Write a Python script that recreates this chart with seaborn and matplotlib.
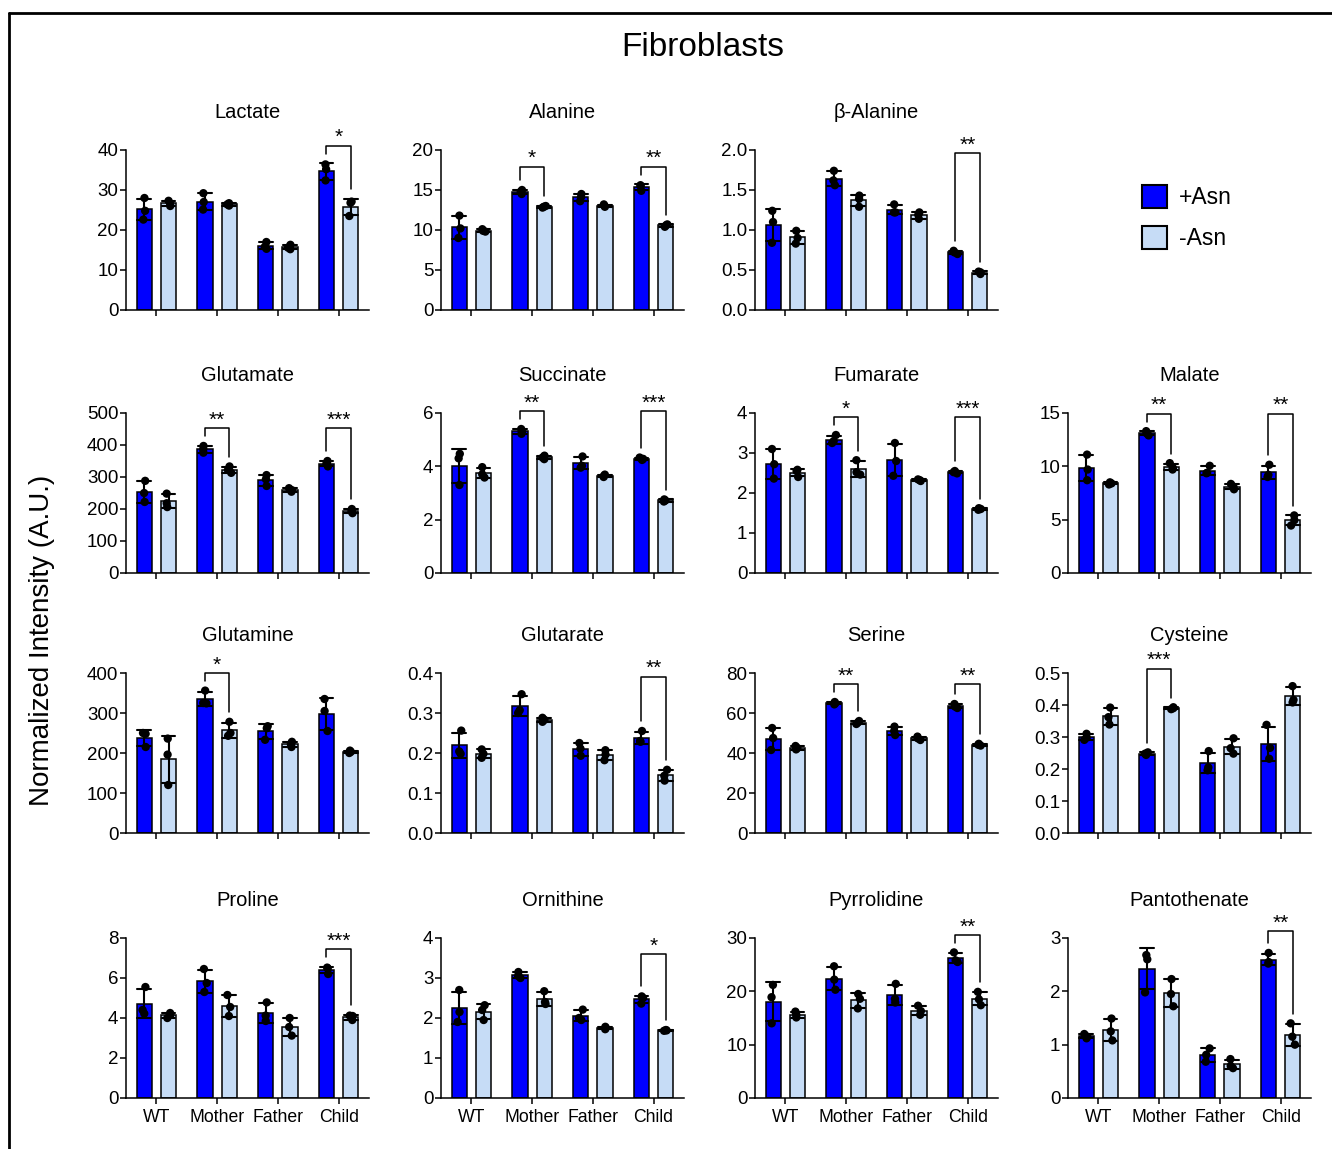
import matplotlib
matplotlib.use('Agg')
import matplotlib.pyplot as plt
import matplotlib.patches as mpatches
from matplotlib.lines import Line2D
import seaborn as sns
import pandas as pd
import numpy as np

groups = ['WT', 'Mother', 'Father', 'Child']
conditions = ['+Asn', '-Asn']

# replicate values, one triplet per group (WT, Mother, Father, Child)
lactate_plus = [[28.0, 24.8, 22.6], [29.2, 27.0, 25.1], [17.0, 15.8, 15.3], [36.4, 35.2, 32.4]]
lactate_minus = [[27.3, 26.6, 26.0], [26.7, 26.4, 26.1], [16.3, 15.6, 15.2], [27.1, 26.8, 23.5]]

alanine_plus = [[11.8, 10.2, 9.0], [15.0, 14.8, 14.5], [14.5, 14.1, 13.6], [15.6, 15.5, 14.9]]
alanine_minus = [[10.1, 9.9, 9.8], [13.0, 12.9, 12.8], [13.2, 13.0, 12.9], [10.7, 10.6, 10.4]]

balanine_plus = [[1.24, 1.10, 0.84], [1.74, 1.62, 1.56], [1.32, 1.22, 1.22], [0.74, 0.72, 0.70]]
balanine_minus = [[0.99, 0.90, 0.83], [1.43, 1.39, 1.29], [1.22, 1.19, 1.14], [0.48, 0.47, 0.45]]

glutamate_plus = [[288, 250, 222], [397, 387, 376], [306, 293, 272], [350, 342, 333]]
glutamate_minus = [[248, 218, 206], [333, 322, 313], [265, 259, 254], [200, 193, 187]]

succinate_plus = [[4.47, 4.30, 3.30], [5.40, 5.30, 5.22], [4.37, 4.02, 3.95], [4.33, 4.28, 4.24]]
succinate_minus = [[3.97, 3.70, 3.58], [4.40, 4.33, 4.27], [3.69, 3.64, 3.60], [2.76, 2.72, 2.68]]

fumarate_plus = [[3.10, 2.72, 2.36], [3.45, 3.30, 3.25], [3.25, 2.80, 2.43], [2.55, 2.52, 2.49]]
fumarate_minus = [[2.58, 2.55, 2.40], [2.82, 2.52, 2.46], [2.34, 2.32, 2.30], [1.62, 1.60, 1.58]]

malate_plus = [[11.1, 9.7, 8.7], [13.3, 13.1, 12.9], [10.05, 9.40, 9.35], [10.15, 9.20, 9.0]]
malate_minus = [[8.5, 8.4, 8.3], [10.3, 9.85, 9.7], [8.35, 8.10, 7.85], [5.4, 4.95, 4.45]]

glutamine_plus = [[250, 248, 215], [356, 325, 324], [267, 262, 233], [335, 305, 255]]
glutamine_minus = [[236, 196, 120], [278, 250, 243], [228, 222, 215], [206, 203, 200]]

glutarate_plus = [[0.256, 0.204, 0.198], [0.347, 0.307, 0.300], [0.225, 0.211, 0.193], [0.255, 0.230, 0.228]]
glutarate_minus = [[0.209, 0.198, 0.188], [0.288, 0.283, 0.278], [0.207, 0.196, 0.182], [0.158, 0.143, 0.131]]

serine_plus = [[52.5, 47.5, 41.5], [65.5, 64.8, 64.3], [53.2, 51.0, 49.0], [64.5, 63.2, 62.5]]
serine_minus = [[43.5, 42.5, 41.8], [56.0, 55.2, 54.5], [48.2, 47.3, 46.5], [44.6, 44.1, 43.7]]

cysteine_plus = [[0.310, 0.298, 0.291], [0.252, 0.248, 0.244], [0.256, 0.205, 0.196], [0.338, 0.266, 0.232]]
cysteine_minus = [[0.392, 0.362, 0.339], [0.393, 0.390, 0.387], [0.296, 0.265, 0.248], [0.459, 0.416, 0.408]]

proline_plus = [[5.55, 4.40, 4.22], [6.45, 5.75, 5.30], [4.78, 4.12, 3.85], [6.52, 6.48, 6.20]]
proline_minus = [[4.25, 4.15, 4.00], [5.15, 4.55, 4.10], [4.00, 3.55, 3.12], [4.12, 4.10, 3.90]]

ornithine_plus = [[2.70, 2.15, 1.90], [3.15, 3.05, 3.00], [2.21, 2.00, 1.95], [2.54, 2.50, 2.36]]
ornithine_minus = [[2.32, 2.20, 1.95], [2.67, 2.40, 2.35], [1.78, 1.75, 1.72], [1.70, 1.69, 1.68]]

pyrrolidine_plus = [[21.2, 18.9, 14.0], [24.7, 22.2, 20.3], [21.4, 18.6, 17.9], [27.3, 25.8, 25.5]]
pyrrolidine_minus = [[16.2, 15.6, 15.1], [19.5, 18.6, 16.8], [17.3, 16.3, 15.6], [19.9, 18.5, 17.4]]

pantothenate_plus = [[1.20, 1.15, 1.12], [2.68, 2.60, 1.98], [0.93, 0.81, 0.68], [2.72, 2.55, 2.52]]
pantothenate_minus = [[1.49, 1.25, 1.08], [2.23, 1.95, 1.72], [0.73, 0.60, 0.56], [1.40, 1.15, 1.00]]

# (title, +Asn, -Asn, y max, y step, significance marks, grid slot)
panels = [
    ('Lactate', lactate_plus, lactate_minus, 40, 10, [('Child', '*')], (0, 0)),
    ('Alanine', alanine_plus, alanine_minus, 20, 5, [('Mother', '*'), ('Child', '**')], (0, 1)),
    ('\u03b2-Alanine', balanine_plus, balanine_minus, 2.0, 0.5, [('Child', '**')], (0, 2)),
    ('Glutamate', glutamate_plus, glutamate_minus, 500, 100, [('Mother', '**'), ('Child', '***')], (1, 0)),
    ('Succinate', succinate_plus, succinate_minus, 6, 2, [('Mother', '**'), ('Child', '***')], (1, 1)),
    ('Fumarate', fumarate_plus, fumarate_minus, 4, 1, [('Mother', '*'), ('Child', '***')], (1, 2)),
    ('Malate', malate_plus, malate_minus, 15, 5, [('Mother', '**'), ('Child', '**')], (1, 3)),
    ('Glutamine', glutamine_plus, glutamine_minus, 400, 100, [('Mother', '*')], (2, 0)),
    ('Glutarate', glutarate_plus, glutarate_minus, 0.4, 0.1, [('Child', '**')], (2, 1)),
    ('Serine', serine_plus, serine_minus, 80, 20, [('Mother', '**'), ('Child', '**')], (2, 2)),
    ('Cysteine', cysteine_plus, cysteine_minus, 0.5, 0.1, [('Mother', '***')], (2, 3)),
    ('Proline', proline_plus, proline_minus, 8, 2, [('Child', '***')], (3, 0)),
    ('Ornithine', ornithine_plus, ornithine_minus, 4, 1, [('Child', '*')], (3, 1)),
    ('Pyrrolidine', pyrrolidine_plus, pyrrolidine_minus, 30, 10, [('Child', '**')], (3, 2)),
    ('Pantothenate', pantothenate_plus, pantothenate_minus, 3, 1, [('Child', '**')], (3, 3)),
]

palette = {'+Asn': '#0000ff', '-Asn': '#c6dcf6'}

sns.set_style('ticks')
plt.rcParams['font.family'] = ['Liberation Sans', 'DejaVu Sans']
plt.rcParams['axes.linewidth'] = 1.1
for key in ['text.color', 'axes.labelcolor', 'xtick.color', 'ytick.color', 'axes.edgecolor']:
    plt.rcParams[key] = 'black'
np.random.seed(3)

W, H = 1332, 1149
fig = plt.figure(figsize=(W / 100, H / 100), dpi=100)

col_left = [126, 441, 755, 1068]
row_base = [310, 573, 833, 1098]
ax_w, ax_h = 243, 160

for name, plus, minus, ymax, step, sig, (r, c) in panels:
    ax = fig.add_axes([col_left[c] / W, 1 - row_base[r] / H, ax_w / W, ax_h / H])
    rows = []
    for g, p, m in zip(groups, plus, minus):
        rows += [(g, '+Asn', v) for v in p]
        rows += [(g, '-Asn', v) for v in m]
    df = pd.DataFrame(rows, columns=['group', 'condition', 'value'])

    sns.barplot(data=df, x='group', y='value', hue='condition', order=groups,
                hue_order=conditions, palette=palette, saturation=1, errorbar='sd',
                capsize=0.45, err_kws={'color': 'black', 'linewidth': 1.5}, width=0.8,
                gap=0.38, edgecolor='black', linewidth=1.1, legend=False, ax=ax)
    sns.stripplot(data=df, x='group', y='value', hue='condition', order=groups,
                  hue_order=conditions, palette={'+Asn': 'black', '-Asn': 'black'},
                  dodge=True, jitter=0.07, size=6, legend=False, ax=ax, zorder=4)

    ax.set_xlim(-0.5, 3.5)
    ax.set_ylim(0, ymax)
    ticks = np.arange(0, ymax + step / 2, step)
    ax.set_yticks(ticks)
    fmt = '{:.1f}' if step < 1 else '{:.0f}'
    ax.set_yticklabels([fmt.format(t) for t in ticks])
    ax.tick_params(axis='both', length=4, width=1.1, colors='black')
    ax.tick_params(axis='y', labelsize=13.5, pad=1.5)
    ax.tick_params(axis='x', labelsize=12.7, pad=4)
    ax.set_xlabel('')
    ax.set_ylabel('')
    if r < 3:
        ax.set_xticklabels([])
    sns.despine(ax=ax)
    ax.set_title(name, fontsize=14.5, pad=23)

    # significance brackets
    agg = df.groupby(['group', 'condition'])['value']
    tops = np.maximum(agg.max(), agg.mean() + agg.std())
    y_br = tops.max() + 0.11 * ymax
    for g, stars in sig:
        i = groups.index(g)
        y0 = tops[(g, '+Asn')] + 0.06 * ymax
        y1 = tops[(g, '-Asn')] + 0.06 * ymax
        ax.plot([i - 0.2, i - 0.2, i + 0.2, i + 0.2], [y0, y_br, y_br, y1],
                color='black', lw=1.1, clip_on=False)
        ax.text(i, y_br - 0.01 * ymax, stars, ha='center', va='bottom', fontsize=15)

fig.text(703 / W, 1 - 48 / H, 'Fibroblasts', ha='center', va='center', fontsize=24)
fig.text(42 / W, 1 - 640 / H, 'Normalized Intensity (A.U.)', rotation=90,
         ha='center', va='center', fontsize=20)

handles = [mpatches.Patch(facecolor=palette[k], edgecolor='black', linewidth=1.5, label=k)
           for k in conditions]
fig.legend(handles=handles, loc='upper left', bbox_to_anchor=(1142 / W, 1 - 185 / H),
           frameon=False, fontsize=16.5, handlelength=1.1, handleheight=1.15,
           labelspacing=0.75, handletextpad=0.5, borderpad=0, borderaxespad=0)

# figure frame (top and left edges)
fig.add_artist(Line2D([9 / W, 9 / W], [0, 1 - 13 / H], transform=fig.transFigure,
                      color='black', lw=2))
fig.add_artist(Line2D([9 / W, 1], [1 - 13 / H, 1 - 13 / H], transform=fig.transFigure,
                      color='black', lw=2))

fig.savefig('out.png', dpi=100)
